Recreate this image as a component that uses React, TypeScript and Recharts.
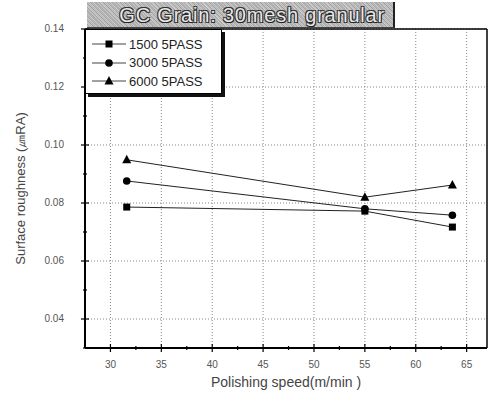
import React from 'react';
import { LineChart, Line, XAxis, YAxis, CartesianGrid, Label, ReferenceLine } from 'recharts';

// polishing speed (m/min) and roughness per pass setting
const speeds = [31.6, 55.0, 63.6];
const pass1500 = [0.0786, 0.0772, 0.0717];
const pass3000 = [0.0876, 0.078, 0.0758];
const pass6000 = [0.0949, 0.082, 0.0862];

const xTicks = [30, 35, 40, 45, 50, 55, 60, 65];
const xMinorTicks = [32.5, 37.5, 42.5, 47.5, 52.5, 57.5, 62.5];
const yTicks = [0.04, 0.06, 0.08, 0.1, 0.12, 0.14];
const yMinorTicks = [0.03, 0.05, 0.07, 0.09, 0.11, 0.13];

const seriesNames = ['1500 5PASS', '3000 5PASS', '6000 5PASS'];
const chartTitle = 'GC Grain: 30mesh granular';

const data = speeds.map((speed, i) => ({
  speed,
  p1500: pass1500[i],
  p3000: pass3000[i],
  p6000: pass6000[i],
}));

const allXTicks = [...xTicks, ...xMinorTicks].sort((a, b) => a - b);
const allYTicks = [...yTicks, ...yMinorTicks].sort((a, b) => a - b);

const font = 'Arial, "Liberation Sans", sans-serif';

const markerShape = (kind: string, cx: number, cy: number, key?: string | number) => {
  if (kind === 'square') {
    return <rect key={key} x={cx - 3.5} y={cy - 3.5} width={7} height={7} fill="#000" />;
  }
  if (kind === 'circle') {
    return <circle key={key} cx={cx} cy={cy} r={3.8} fill="#000" />;
  }
  return (
    <polygon
      key={key}
      points={`${cx},${cy - 5} ${cx - 4.5},${cy + 3.5} ${cx + 4.5},${cy + 3.5}`}
      fill="#000"
    />
  );
};

const makeDot = (kind: string) => (props: any) => markerShape(kind, props.cx, props.cy, props.index);

const kinds = ['square', 'circle', 'triangle'];

const XTick = (props: any) => {
  const { x, y, payload } = props;
  const major = xTicks.includes(payload.value);
  return (
    <g>
      <line x1={x} x2={x} y1={y - (major ? 4 : 2)} y2={y + (major ? 4 : 2)} stroke="#000" strokeWidth={1.2} />
      {major && (
        <text x={x} y={y + 17} textAnchor="middle" dominantBaseline="middle" fontSize={10} fill="#555" fontFamily={font}>
          {payload.value}
        </text>
      )}
    </g>
  );
};

const YTick = (props: any) => {
  const { x, y, payload } = props;
  const major = yTicks.includes(payload.value);
  return (
    <g>
      <line x1={x - (major ? 4 : 2)} x2={x + (major ? 4 : 2)} y1={y} y2={y} stroke="#000" strokeWidth={1.2} />
      {major && (
        <text x={x - 21} y={y} textAnchor="end" dominantBaseline="middle" fontSize={10} fill="#555" fontFamily={font}>
          {payload.value.toFixed(2)}
        </text>
      )}
    </g>
  );
};

const LegendBox = () => (
  <div
    style={{
      position: 'absolute',
      left: 85,
      top: 29,
      background: '#fff',
      border: '1px solid #000',
      boxShadow: '3px 3px 0 #111',
      width: 137,
      height: 65,
      boxSizing: 'border-box',
      padding: '5px 0 0 6px',
      fontFamily: font,
      fontSize: 13,
      color: '#222',
      zIndex: 1,
    }}
  >
    {seriesNames.map((name, i) => (
      <div key={name} style={{ display: 'flex', alignItems: 'center', height: 18.5 }}>
        <svg width={34} height={12} style={{ marginRight: 3 }}>
          <line x1={0} y1={6} x2={34} y2={6} stroke="#444" strokeWidth={1} />
          {markerShape(kinds[i], 17, 6)}
        </svg>
        <span>{name}</span>
      </div>
    ))}
  </div>
);

export default function App() {
  return (
    <div style={{ position: 'absolute', left: 0, top: 0, width: 493, height: 401, background: '#fff' }}>
      <div
        style={{
          position: 'absolute',
          left: 87,
          top: 2,
          width: 308,
          height: 26,
          background:
            'repeating-linear-gradient(45deg, #a8a8a8 0px, #cfcfcf 1px, #9c9c9c 2px, #d6d6d6 3px)',
          borderRight: '2px solid #222',
          borderBottom: '1px solid #444',
          zIndex: 2,
          fontFamily: font,
          fontSize: 20,
          letterSpacing: 0.8,
          color: '#e8e8e8',
          textShadow: '1px 1px 0 #222, -1px -1px 0 #333, 1px -1px 0 #333, -1px 1px 0 #333',
          lineHeight: '26px',
          textAlign: 'right',
          paddingRight: 8,
          boxSizing: 'border-box',
          whiteSpace: 'nowrap',
        }}
      >
        {chartTitle}
      </div>
      <LegendBox />
      <LineChart width={493} height={401} data={data} margin={{ top: 29, right: 6, left: 0, bottom: 0 }}>
        <CartesianGrid stroke="#888" strokeDasharray="1 2" verticalValues={xTicks} horizontalValues={yTicks} />
        <XAxis
          type="number"
          dataKey="speed"
          domain={[27.5, 67]}
          ticks={allXTicks}
          interval={0}
          height={53}
          tick={<XTick />}
          tickSize={0}
          tickMargin={0}
          tickLine={false}
          axisLine={{ stroke: '#000', strokeWidth: 2 }}
        >
          <Label
            value="Polishing speed(m/min )"
            position="insideBottom"
            offset={14}
            style={{ fontSize: 14, fill: '#444', fontFamily: font }}
          />
        </XAxis>
        <YAxis
          type="number"
          domain={[0.03, 0.14]}
          ticks={allYTicks}
          interval={0}
          width={85}
          tick={<YTick />}
          tickSize={0}
          tickMargin={0}
          tickLine={false}
          axisLine={{ stroke: '#000', strokeWidth: 2 }}
        >
          <Label
            value="Surface roughness (㎛RA)"
            angle={-90}
            position="insideLeft"
            offset={20}
            style={{ textAnchor: 'middle', fontSize: 13, fill: '#444', fontFamily: font }}
          />
        </YAxis>
        <ReferenceLine y={0.14} stroke="#000" strokeWidth={1.5} />
        <ReferenceLine x={67} stroke="#000" strokeWidth={1.5} />
        <Line dataKey="p1500" name={seriesNames[0]} stroke="#222" strokeWidth={1} dot={makeDot('square')} isAnimationActive={false} />
        <Line dataKey="p3000" name={seriesNames[1]} stroke="#222" strokeWidth={1} dot={makeDot('circle')} isAnimationActive={false} />
        <Line dataKey="p6000" name={seriesNames[2]} stroke="#222" strokeWidth={1} dot={makeDot('triangle')} isAnimationActive={false} />
      </LineChart>
    </div>
  );
}
